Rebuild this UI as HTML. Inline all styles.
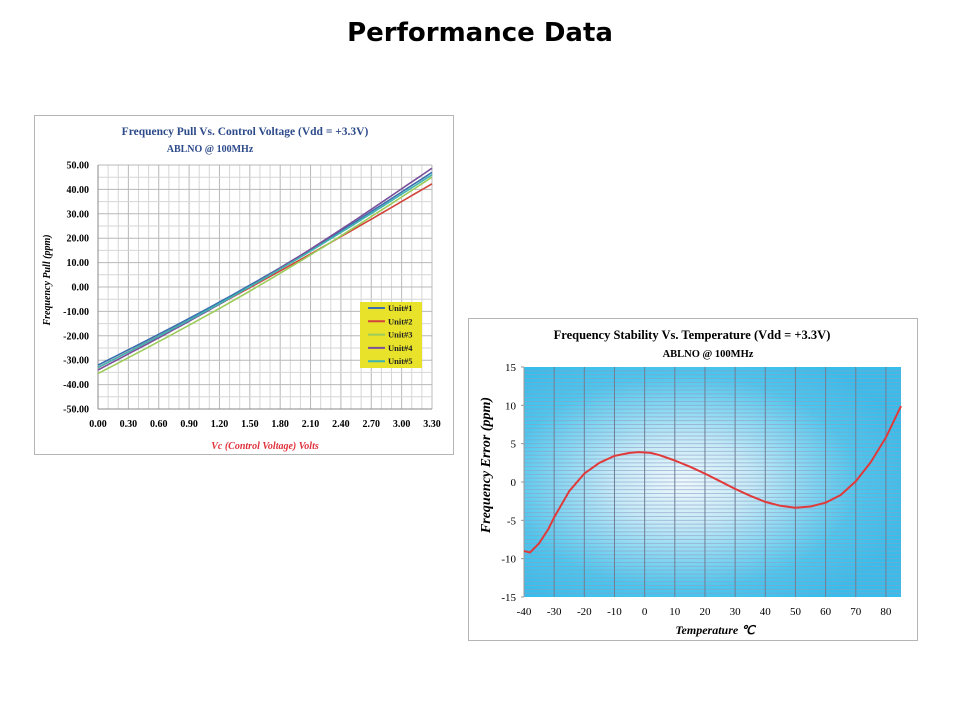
<!DOCTYPE html>
<html><head><meta charset="utf-8"><style>
body{margin:0;background:#fff;width:960px;height:720px;overflow:hidden}
svg{position:absolute;left:0;top:0}
</style></head><body>
<svg id="s" width="960" height="720" xmlns="http://www.w3.org/2000/svg" font-family="Liberation Serif, serif">
<defs>
<radialGradient id="rg" cx="0.42" cy="0.5" r="0.62">
<stop offset="0" stop-color="#eef9fc"/>
<stop offset="0.3" stop-color="#c4eaf6"/>
<stop offset="0.75" stop-color="#4cc6ec"/>
<stop offset="1" stop-color="#38bdea"/>
</radialGradient>
</defs>
<text x="480" y="41" text-anchor="middle" font-family="DejaVu Sans, sans-serif" font-weight="bold" font-size="26" fill="#000">Performance Data</text>
<!-- chart 1 -->
<rect x="34.5" y="115.5" width="419" height="339" fill="#fff" stroke="#b5b5b5"/>
<g id="g1"></g>
<text x="245" y="135" text-anchor="middle" font-weight="bold" font-size="11.5" fill="#2d4a8a">Frequency  Pull Vs. Control Voltage (Vdd = +3.3V)</text>
<text x="210" y="152" text-anchor="middle" font-weight="bold" font-size="10" fill="#2d4a8a">ABLNO @ 100MHz</text>
<text x="265" y="449" text-anchor="middle" font-weight="bold" font-style="italic" font-size="10" fill="#e0303a">Vc (Control Voltage) Volts</text>
<text transform="translate(50,280) rotate(-90)" text-anchor="middle" font-weight="bold" font-style="italic" font-size="10" fill="#000">Frequency Pull (ppm)</text>
<!-- chart 2 -->
<rect x="468.5" y="318.5" width="449" height="322" fill="#fff" stroke="#b5b5b5"/>
<g id="g2"></g>
<text x="692" y="339" text-anchor="middle" font-weight="bold" font-size="12.5" fill="#000">Frequency Stability Vs. Temperature  (Vdd = +3.3V)</text>
<text x="708" y="357" text-anchor="middle" font-weight="bold" font-size="10.5" fill="#000">ABLNO @ 100MHz</text>
<text x="715" y="634" text-anchor="middle" font-weight="bold" font-style="italic" font-size="12" fill="#000">Temperature ℃</text>
<text transform="translate(490,465) rotate(-90)" text-anchor="middle" font-weight="bold" font-style="italic" font-size="14" fill="#000">Frequency Error (ppm)</text>
</svg>
<script>
var NS="http://www.w3.org/2000/svg";
function el(p,t,a,txt){var e=document.createElementNS(NS,t);for(var k in a)e.setAttribute(k,a[k]);if(txt!=null)e.textContent=txt;p.appendChild(e);return e;}
var g1=document.getElementById('g1');
var x0=98,x1=432,yT=165,yB=409;
function X1(v){return x0+(x1-x0)*v/3.3}
function Y1(p){return yB-(yB-yT)*(p+50)/100}
for(var i=0;i<=33;i++){var x=X1(i*0.1);el(g1,'line',{x1:x,y1:yT,x2:x,y2:yB,stroke:i%3==0?'#b8b8b8':'#d6d6d6','stroke-width':1});}
for(var i=0;i<=20;i++){var y=Y1(-50+i*5);el(g1,'line',{x1:x0,y1:y,x2:x1,y2:y,stroke:i%2==0?'#b8b8b8':'#d6d6d6','stroke-width':1});}
el(g1,'line',{x1:x0,y1:yT,x2:x0,y2:yB,stroke:'#888'});
el(g1,'line',{x1:x0,y1:yB,x2:x1,y2:yB,stroke:'#888'});
for(var i=0;i<=10;i++){var v=-50+i*10;el(g1,'text',{x:89,y:Y1(v)+3.5,'text-anchor':'end','font-weight':'bold','font-size':10},v.toFixed(2));}
for(var i=0;i<=11;i++){var v=i*0.3;el(g1,'text',{x:X1(v),y:427,'text-anchor':'middle','font-weight':'bold','font-size':10},v.toFixed(2));}
var units=[['#3b6fb0',-32,47,3.2],['#d2453a',-33,42.3,1.5],['#9ccc5a',-35.5,45,2.8],['#7a4f9a',-34,48.7,3.4],['#3fb4b0',-33,46,2.8]];
units.forEach(function(u){
 var d='';for(var i=0;i<=40;i++){var t=i/40;var v=3.3*t;var lin=u[1]+(u[2]-u[1])*t;var p=lin-u[3]*Math.sin(Math.PI*t);
 d+=(i?'L':'M')+X1(v).toFixed(1)+','+Y1(p).toFixed(1);}
 el(g1,'path',{d:d,fill:'none',stroke:u[0],'stroke-width':1.6});
});
el(g1,'rect',{x:360,y:302,width:62,height:66,fill:'#e8e22a'});
units.forEach(function(u,i){var y=308+i*13.3;el(g1,'line',{x1:368,y1:y,x2:385,y2:y,stroke:u[0],'stroke-width':2});
 el(g1,'text',{x:388,y:y+3,'font-weight':'bold','font-size':8.5,fill:'#222'},'Unit#'+(i+1));});
var g2=document.getElementById('g2');
var a0=524,a1=901,bT=367,bB=597;
function X2(t){return a0+(a1-a0)*(t+40)/125}
function Y2(v){return bB-(bB-bT)*(v+15)/30}
el(g2,'rect',{x:a0,y:bT,width:a1-a0,height:bB-bT,fill:'url(#rg)'});
for(var i=1;i<60;i++){var y=Y2(-15+i*0.5);el(g2,'line',{x1:a0,y1:y,x2:a1,y2:y,stroke:'#8f9cc8','stroke-width':1,'stroke-opacity':0.6});}
for(var i=1;i<=12;i++){var x=X2(-40+i*10);el(g2,'line',{x1:x,y1:bT,x2:x,y2:bB,stroke:'#6f7f95','stroke-width':1});}
el(g2,'line',{x1:a0,y1:bT,x2:a0,y2:bB,stroke:'#999'});
for(var i=0;i<=6;i++){var v=-15+i*5;el(g2,'text',{x:516,y:Y2(v)+4,'text-anchor':'end','font-size':11},''+v);el(g2,'line',{x1:a0-3,y1:Y2(v),x2:a0,y2:Y2(v),stroke:'#999'});}
for(var i=0;i<=12;i++){var t=-40+i*10;el(g2,'text',{x:X2(t),y:615,'text-anchor':'middle','font-size':11},''+t);}
var pts=[[-40,-9],[-38,-9.2],[-35,-8],[-32,-6.2],[-30,-4.6],[-25,-1.2],[-20,1.1],[-15,2.5],[-10,3.4],[-5,3.8],[-2,3.9],[2,3.8],[5,3.5],[10,2.8],[15,2],[20,1.1],[25,0.1],[30,-0.9],[35,-1.8],[40,-2.6],[45,-3.1],[50,-3.35],[55,-3.2],[60,-2.7],[65,-1.7],[70,0.1],[75,2.6],[80,5.8],[85,9.9]];
var d='';pts.forEach(function(p,i){d+=(i?'L':'M')+X2(p[0]).toFixed(1)+','+Y2(p[1]).toFixed(1);});
el(g2,'path',{d:d,fill:'none',stroke:'#e03a3a','stroke-width':2,'stroke-linejoin':'round'});
</script>
</body></html>
